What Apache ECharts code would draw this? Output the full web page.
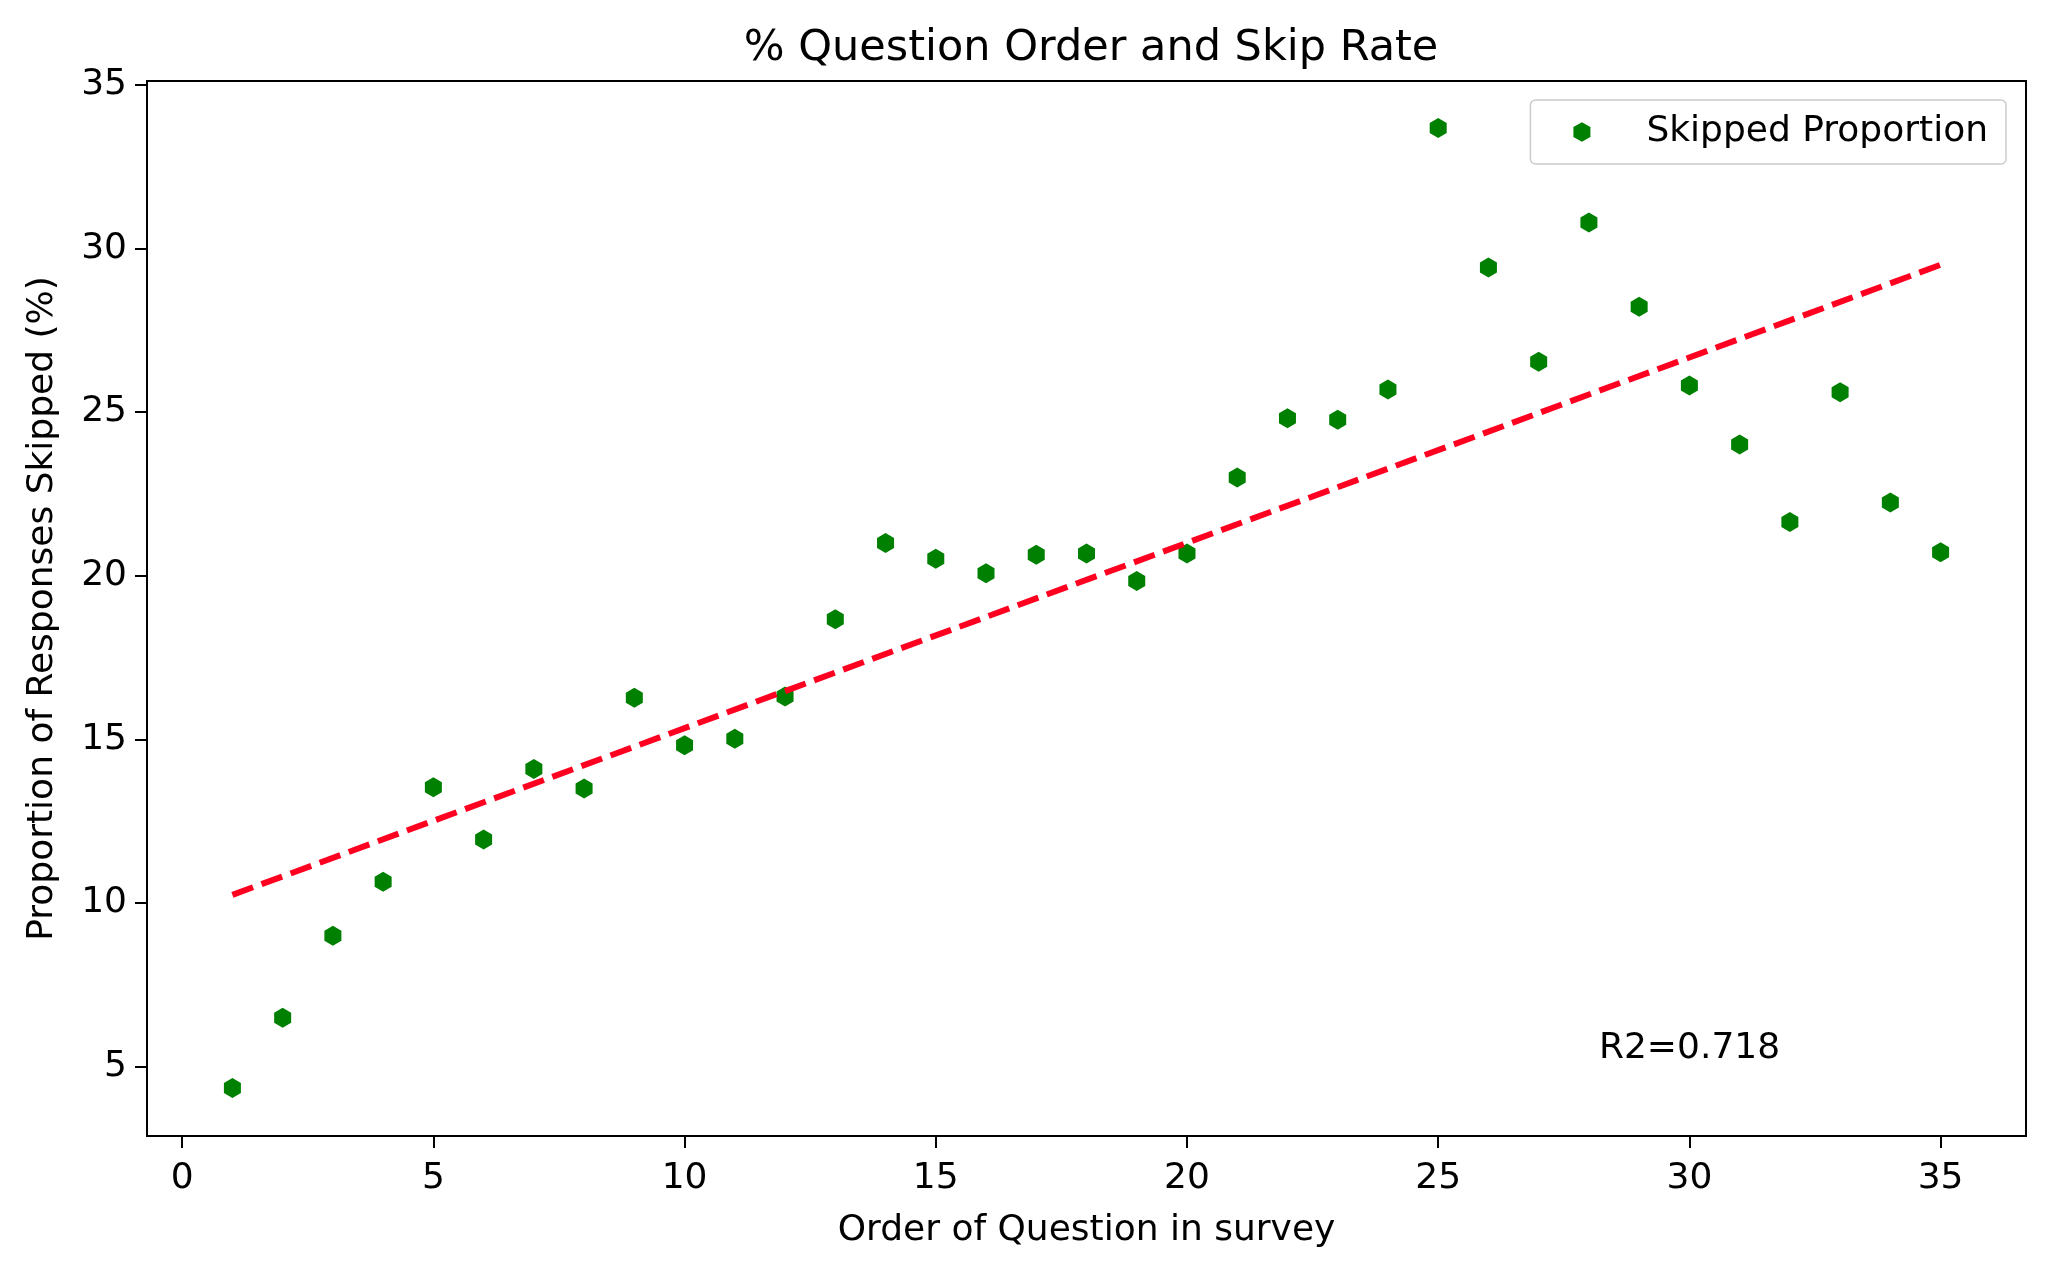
<!DOCTYPE html>
<html>
<head>
<meta charset="utf-8">
<script src="https://cdn.jsdelivr.net/npm/echarts@6/dist/echarts.min.js"></script>
<style>
html,body{margin:0;padding:0;background:#fff;}
#chart{width:2056px;height:1277px;}
</style>
</head>
<body>
<div id="chart"></div>
<script>
// Question order (x) and skipped proportion (%)
var questionOrder = [1,2,3,4,5,6,7,8,9,10,11,12,13,14,15,16,17,18,19,20,21,22,23,24,25,26,27,28,29,30,31,32,33,34,35];
var skippedPct = [4.35,6.5,9.0,10.65,13.54,11.94,14.1,13.5,16.27,14.82,15.02,16.31,18.67,21.0,20.52,20.08,20.64,20.68,19.84,20.68,23.0,24.81,24.77,25.69,33.68,29.42,26.54,30.79,28.22,25.81,24.01,21.64,25.61,22.24,20.72];
// Fitted trend line end points
var trendX = [1, 35];
var trendY = [10.25, 29.5];
var xTicks = [0,5,10,15,20,25,30,35];
var yTicks = [5,10,15,20,25,30,35];
var r2Label = 'R2=0.718';
var r2Pos = [28.2, 5.23];

var FONT = 'DejaVu Sans';
var hexPath = 'path://M0,-1 L0.866,-0.5 L0.866,0.5 L0,1 L-0.866,0.5 L-0.866,-0.5 Z';

var scatterData = questionOrder.map(function(x,i){return [x, skippedPct[i]];});
var trendData = trendX.map(function(x,i){return [x, trendY[i]];});

var chart = echarts.init(document.getElementById('chart'), null, {renderer:'canvas'});
chart.setOption({
  animation:false,
  backgroundColor:'#ffffff',
  title:{
    text:'% Question Order and Skip Rate',
    left:1086, top:22, textAlign:'center',
    textStyle:{fontFamily:FONT, fontSize:43, fontWeight:'normal', color:'#000'}
  },
  legend:{
    data:[{name:'Skipped Proportion', icon:hexPath}],
    right:50, top:100,
    orient:'vertical',
    itemWidth:17, itemHeight:20,
    padding:[12,18,12,43],
    backgroundColor:'rgba(255,255,255,0.8)',
    borderColor:'#cccccc', borderWidth:1.5, borderRadius:5,
    textStyle:{fontFamily:FONT, fontSize:36, color:'#000', lineHeight:40, padding:[0,0,0,51]}
  },
  grid:{
    left:147, right:30, top:81, bottom:141,
    show:true, borderColor:'#000', borderWidth:2, backgroundColor:'transparent'
  },
  xAxis:{
    type:'value', min:-0.7, max:36.7,
    name:'Order of Question in survey', nameLocation:'middle', nameGap:77,
    nameTextStyle:{fontFamily:FONT, fontSize:36, color:'#000'},
    axisLine:{show:true, onZero:false, lineStyle:{color:'#000', width:2}},
    axisTick:{show:true, length:12, lineStyle:{color:'#000', width:2}, customValues:xTicks},
    axisLabel:{fontFamily:FONT, fontSize:36, color:'#000', margin:25, customValues:xTicks},
    splitLine:{show:false}
  },
  yAxis:{
    type:'value', min:2.885, max:35.115,
    name:'Proportion of Responses Skipped (%)', nameLocation:'middle', nameGap:86, nameRotate:90,
    nameTextStyle:{fontFamily:FONT, fontSize:36, color:'#000'},
    axisLine:{show:true, onZero:false, lineStyle:{color:'#000', width:2}},
    axisTick:{show:true, length:12, lineStyle:{color:'#000', width:2}, customValues:yTicks},
    axisLabel:{fontFamily:FONT, fontSize:36, color:'#000', margin:20, customValues:yTicks},
    splitLine:{show:false}
  },
  series:[
    {
      name:'Skipped Proportion', type:'scatter',
      data:scatterData,
      symbol:hexPath, symbolSize:[17,20],
      itemStyle:{color:'#008000', opacity:1},
      z:3
    },
    {
      name:'trend', type:'line',
      data:trendData,
      symbol:'none',
      lineStyle:{color:'#ff0020', width:6, type:[22,9]},
      z:4,
      markPoint:{
        symbol:'circle', symbolSize:0,
        data:[{coord:r2Pos}],
        label:{show:true, formatter:r2Label, position:'inside', offset:[0,7], align:'left', verticalAlign:'bottom',
               fontFamily:FONT, fontSize:36, color:'#000'}
      }
    }
  ]
});
</script>
</body>
</html>
